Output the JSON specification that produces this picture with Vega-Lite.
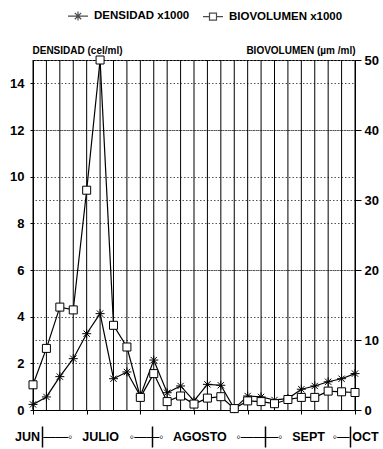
{
  "$schema": "https://vega.github.io/schema/vega-lite/v6.json",
  "width": 322,
  "height": 350,
  "autosize": {"type": "none"},
  "padding": {"left": 33, "top": 60, "right": 28, "bottom": 39},
  "background": "white",
  "config": {
    "view": {"stroke": "black", "strokeWidth": 1},
    "font": "Liberation Sans",
    "axis": {
      "labelFont": "Liberation Sans",
      "labelFontWeight": "bold",
      "labelColor": "black",
      "titleFont": "Liberation Sans",
      "titleColor": "black",
      "domainColor": "black",
      "tickColor": "black"
    }
  },
  "data": {
    "values": [
      {"i": 0, "densidad": 0.24, "biovolumen": 3.6},
      {"i": 1, "densidad": 0.56, "biovolumen": 8.8},
      {"i": 2, "densidad": 1.43, "biovolumen": 14.7},
      {"i": 3, "densidad": 2.2, "biovolumen": 14.3},
      {"i": 4, "densidad": 3.27, "biovolumen": 31.4},
      {"i": 5, "densidad": 4.13, "biovolumen": 50},
      {"i": 6, "densidad": 1.34, "biovolumen": 12.1},
      {"i": 7, "densidad": 1.63, "biovolumen": 9.0},
      {"i": 8, "densidad": 0.6, "biovolumen": 1.8},
      {"i": 9, "densidad": 2.14, "biovolumen": 5.2},
      {"i": 10, "densidad": 0.74, "biovolumen": 1.2},
      {"i": 11, "densidad": 1.03, "biovolumen": 2.0},
      {"i": 12, "densidad": 0.39, "biovolumen": 0.85},
      {"i": 13, "densidad": 1.1, "biovolumen": 1.7},
      {"i": 14, "densidad": 1.06, "biovolumen": 1.9},
      {"i": 15, "densidad": 0.06, "biovolumen": 0.2},
      {"i": 16, "densidad": 0.6, "biovolumen": 1.3},
      {"i": 17, "densidad": 0.56, "biovolumen": 1.2},
      {"i": 18, "densidad": 0.43, "biovolumen": 0.9},
      {"i": 19, "densidad": 0.49, "biovolumen": 1.5},
      {"i": 20, "densidad": 0.89, "biovolumen": 1.8},
      {"i": 21, "densidad": 1.03, "biovolumen": 1.8},
      {"i": 22, "densidad": 1.21, "biovolumen": 2.7},
      {"i": 23, "densidad": 1.34, "biovolumen": 2.6},
      {"i": 24, "densidad": 1.56, "biovolumen": 2.5}
    ]
  },
  "layer": [
    {
      "mark": {"type": "rule", "stroke": "black", "strokeWidth": 1},
      "encoding": {
        "x": {
          "field": "i",
          "type": "quantitative",
          "scale": {"domain": [0, 24], "nice": false, "zero": false},
          "axis": {
            "orient": "bottom",
            "values": [0, 0.7, 5, 8.88, 12.4, 17.3, 20.5, 23.6, 24],
            "labelExpr": "datum.value==0?'JUN':datum.value==5?'JULIO':datum.value==12.4?'AGOSTO':datum.value==20.5?'SEPT':datum.value==24?'OCT':datum.value==0.7?'——◦':datum.value==8.88?'◦——◦':datum.value==17.3?'◦———◦':datum.value==23.6?'◦—':''",
            "offset": 16,
            "tickSize": 21,
            "tickWidth": 1.5,
            "tickOpacity": {"condition": {"test": "datum.value==0.7||datum.value==8.88||datum.value==17.3||datum.value==23.6", "value": 1}, "value": 0},
            "labelPadding": -11,
            "labelBaseline": "middle",
            "labelFontSize": 12.5,
            "labelOffset": {"condition": [
              {"test": "datum.value==0", "value": -6},
              {"test": "datum.value==24", "value": 10},
              {"test": "datum.value==0.7", "value": 15},
              {"test": "datum.value==23.6", "value": -9},
              {"test": "datum.value==8.88||datum.value==17.3", "value": -6}
            ], "value": 0},
            "labelFontWeight": {"condition": {"test": "datum.value==0.7||datum.value==8.88||datum.value==17.3||datum.value==23.6", "value": "normal"}, "value": "bold"},
            "domain": false,
            "grid": false,
            "labelBound": false,
            "labelFlush": false,
            "labelOverlap": false,
            "title": null
          }
        }
      }
    },
    {
      "layer": [
        {
          "mark": {"type": "line", "color": "black", "strokeWidth": 1.2},
          "encoding": {
            "x": {
              "field": "i",
              "type": "quantitative",
              "axis": {"orient": "bottom", "values": [0,1,2,3,4,5,6,7,8,9,10,11,12,13,14,15,16,17,18,19,20,21,22,23,24], "labels": false, "tickSize": 4, "grid": false, "title": null, "domain": true}
            },
            "y": {
              "field": "densidad",
              "type": "quantitative",
              "scale": {"domain": [0, 15], "nice": false},
              "axis": {
                "orient": "left",
                "values": [0, 2, 4, 6, 8, 10, 12, 14],
                "tickSize": 3,
                "labelPadding": 6,
                "labelFontSize": 13,
                "grid": true,
                "gridDash": [1.5, 2],
                "gridColor": "#555",
                "title": "DENSIDAD (cel/ml)",
                "titleAngle": 0,
                "titleAlign": "left",
                "titleBaseline": "alphabetic",
                "titleX": -1,
                "titleY": -7,
                "titleFontSize": 10,
                "titleFontWeight": "bold"
              }
            }
          }
        },
        {
          "mark": {"type": "point", "shape": "M0,-1L0,1M-1,0L1,0M-0.7,-0.7L0.7,0.7M-0.7,0.7L0.7,-0.7", "filled": true, "fill": "white", "stroke": "black", "strokeWidth": 1, "size": 81, "opacity": 1},
          "encoding": {
            "x": {"field": "i", "type": "quantitative"},
            "y": {"field": "densidad", "type": "quantitative"}
          }
        }
      ]
    },
    {
      "layer": [
        {
          "mark": {"type": "line", "color": "black", "strokeWidth": 1.2},
          "encoding": {
            "x": {"field": "i", "type": "quantitative", "axis": null},
            "y": {
              "field": "biovolumen",
              "type": "quantitative",
              "scale": {"domain": [0, 50], "nice": false},
              "axis": {
                "orient": "right",
                "values": [0, 5, 10, 15, 20, 25, 30, 35, 40, 45, 50],
                "tickSize": 6,
                "labelPadding": 3,
                "labelFontSize": 13,
                "grid": true,
                "gridDash": [1.5, 2],
                "gridColor": "#555",
                "title": "BIOVOLUMEN (µm /ml)",
                "titleAngle": 0,
                "titleAlign": "right",
                "titleBaseline": "alphabetic",
                "titleX": 0,
                "titleY": -7,
                "titleFontSize": 10,
                "titleFontWeight": "bold"
              }
            }
          }
        },
        {
          "mark": {"type": "point", "shape": "square", "filled": true, "fill": "white", "stroke": "black", "strokeWidth": 1, "size": 64, "opacity": 1},
          "encoding": {
            "x": {"field": "i", "type": "quantitative", "axis": null},
            "y": {"field": "biovolumen", "type": "quantitative"}
          }
        }
      ]
    },
    {
      "data": {"values": [{"k": 1}]},
      "transform": [{"filter": "datum.k == 0"}],
      "mark": {"type": "point", "filled": false, "color": "black", "strokeWidth": 1.2},
      "encoding": {
        "shape": {
          "datum": "DENSIDAD x1000",
          "scale": {
            "domain": ["DENSIDAD x1000", "BIOVOLUMEN x1000"],
            "range": [
              "M-1,0L1,0M0,-0.45L0,0.45M-0.32,-0.32L0.32,0.32M-0.32,0.32L0.32,-0.32",
              "M-1,0L-0.35,0M0.35,0L1,0M-0.35,-0.35L0.35,-0.35L0.35,0.35L-0.35,0.35Z"
            ]
          },
          "legend": {
            "orient": "none",
            "legendX": 34,
            "legendY": -55,
            "direction": "horizontal",
            "title": null,
            "symbolSize": 400,
            "symbolStrokeWidth": 1.2,
            "symbolStrokeColor": "black",
            "labelFont": "Liberation Sans",
            "labelFontSize": 11.5,
            "labelFontWeight": "bold",
            "labelColor": "black",
            "labelOffset": 5,
            "columnPadding": 10,
            "padding": 0
          }
        }
      }
    }
  ],
  "resolve": {"scale": {"y": "independent"}, "axis": {"x": "independent", "y": "independent"}}
}
